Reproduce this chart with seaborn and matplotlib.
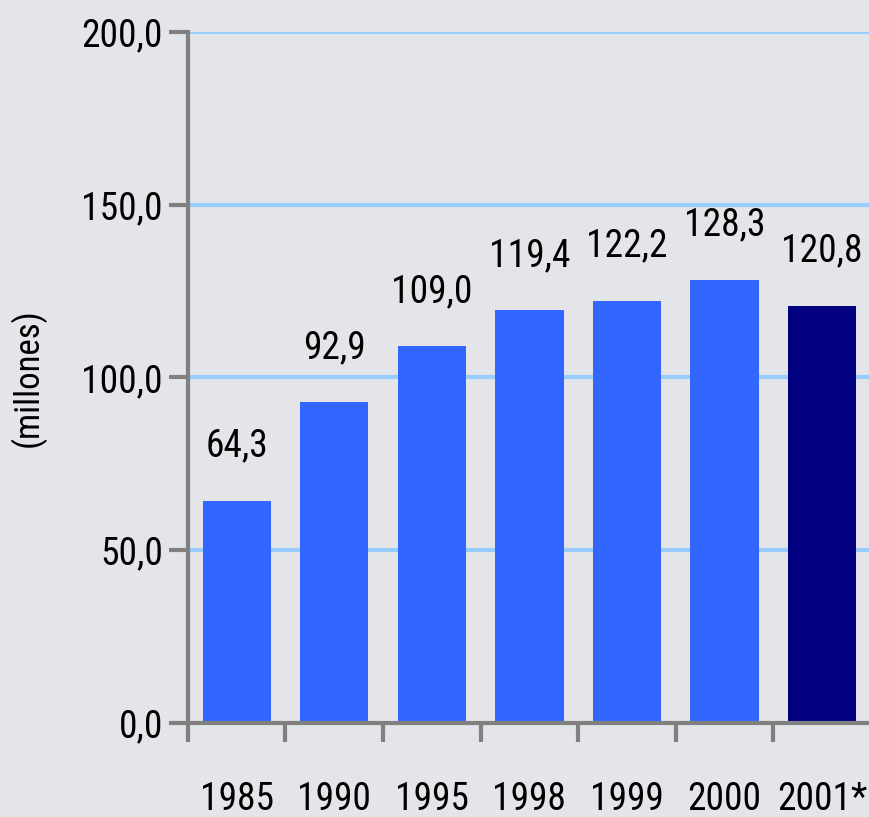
import matplotlib
matplotlib.use("Agg")
import matplotlib.pyplot as plt
import seaborn as sns
import pandas as pd

years = ["1985", "1990", "1995", "1998", "1999", "2000", "2001*"]
values = [64.3, 92.9, 109.0, 119.4, 122.2, 128.3, 120.8]
labels = ["64,3", "92,9", "109,0", "119,4", "122,2", "128,3", "120,8"]
yticks = [0, 50, 100, 150, 200]
ytick_labels = ["0,0", "50,0", "100,0", "150,0", "200,0"]
colors = ["#3366FF"] * 6 + ["#000080"]

sns.set_style("white")
plt.rcParams["font.family"] = ["Roboto Condensed", "DejaVu Sans"]

df = pd.DataFrame({"year": years, "value": values})

fig = plt.figure(figsize=(8.7, 8.17), dpi=100)
bg = "#e3e5e9"
fig.patch.set_facecolor(bg)
ax = fig.add_axes([0.216, 0.115, 0.785, 0.846])
ax.set_facecolor(bg)

sns.barplot(data=df, x="year", y="value", hue="year", palette=colors,
            legend=False, width=0.7, saturation=1, ax=ax, zorder=3,
            edgecolor="none", linewidth=0)

ax.set_xlim(-0.5, 6.5)
ax.set_ylim(0, 200)
ax.set_yticks(yticks)
ax.set_yticklabels(ytick_labels)
for y in yticks[1:]:
    ax.axhline(y, color="#99CCFF", lw=3, zorder=1)

for i, (v, lab) in enumerate(zip(values, labels)):
    ax.annotate(lab, (i, v), xytext=(0, 26), textcoords="offset points",
                ha="center", va="bottom", fontsize=27, color="black")

ax.set_xticks([i - 0.5 for i in range(7)], minor=False)
ax.set_xticklabels([])
ax.set_xticks(range(7), minor=True)
ax.set_xticklabels(years, minor=True)
ax.tick_params(axis="x", which="major", bottom=True, length=14, width=3,
               color="#808080", direction="out")
ax.tick_params(axis="x", which="minor", bottom=False, length=0, pad=42,
               labelsize=27, labelcolor="black")
ax.tick_params(axis="y", left=True, length=14, width=3, color="#808080",
               direction="out", labelsize=27, labelcolor="black", pad=4)

for s in ["top", "right"]:
    ax.spines[s].set_visible(False)
for s in ["left", "bottom"]:
    ax.spines[s].set_color("#808080")
    ax.spines[s].set_linewidth(3)
    ax.spines[s].set_zorder(4)

ax.set_xlabel("")
ax.set_ylabel("(millones)", fontsize=25, labelpad=26, color="black")

fig.savefig("out.png", dpi=100, facecolor=bg)
